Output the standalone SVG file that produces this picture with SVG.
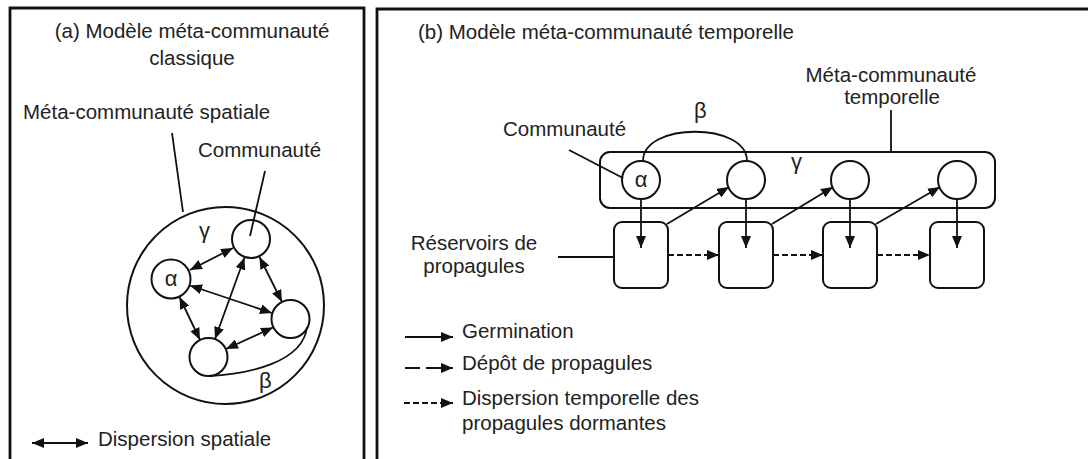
<svg xmlns="http://www.w3.org/2000/svg" width="1088" height="459" viewBox="0 0 1088 459">
<style>
text{font-family:"Liberation Sans",Arial,sans-serif;font-size:20.5px;fill:#222}
.c{text-anchor:middle}
.g{font-size:22px}
.s{fill:#fff;stroke:#111;stroke-width:2}
.l{fill:none;stroke:#111;stroke-width:1.8}
.p{fill:none;stroke:#111;stroke-width:2.8}
.d{stroke-dasharray:6,3}
.dl{stroke-dasharray:15,6}
</style>
<defs>
<marker id="ah" viewBox="0 0 12 10" refX="12" refY="5" markerWidth="12" markerHeight="10" markerUnits="userSpaceOnUse" orient="auto-start-reverse">
<path d="M0,0 L12,5 L0,10 z" fill="#111"/>
</marker>
</defs>
<g id="panels">
<path class="p" d="M10,459 V8 H364 V459"/>
<path class="p" d="M377,459 V9 H1088"/>
</g>
<g id="panel-a">
<text class="c" x="192" y="38">(a) Modèle méta-communauté</text>
<text class="c" x="192" y="65">classique</text>
<text x="23" y="119">Méta-communauté spatiale</text>
<text x="198" y="157">Communauté</text>
<g id="meta-spatiale"><circle class="s" cx="225.5" cy="305.5" r="98.5" fill="none"/></g>
<text class="g" x="199" y="238">γ</text>
<g id="comm-a"><circle class="s" cx="171" cy="279" r="19.5"/><text class="c g" x="171" y="286">α</text></g>
<g id="comm-t"><circle class="s" cx="251" cy="239" r="19"/></g>
<g id="comm-r"><circle class="s" cx="290.5" cy="319" r="19"/></g>
<g id="comm-b"><circle class="s" cx="208.5" cy="357" r="19"/></g>
<text class="g" x="259" y="388">β</text>
<g id="connectors-a">
<line class="l" x1="172" y1="133" x2="183" y2="212"/>
<line class="l" x1="265" y1="171" x2="250" y2="236"/>
<path class="l" d="M208.5,376 C250,374 303,362 307,327"/>
<line class="l" x1="190" y1="270" x2="233" y2="248" marker-start="url(#ah)" marker-end="url(#ah)"/>
<line class="l" x1="190" y1="285.5" x2="272" y2="313" marker-start="url(#ah)" marker-end="url(#ah)"/>
<line class="l" x1="179.5" y1="297" x2="200" y2="340" marker-start="url(#ah)" marker-end="url(#ah)"/>
<line class="l" x1="244.5" y1="257.5" x2="215" y2="339" marker-start="url(#ah)" marker-end="url(#ah)"/>
<line class="l" x1="259.5" y1="257" x2="282" y2="302" marker-start="url(#ah)" marker-end="url(#ah)"/>
<line class="l" x1="273" y1="327.5" x2="226" y2="349" marker-start="url(#ah)" marker-end="url(#ah)"/>
<line class="l" x1="32" y1="443" x2="88" y2="443" marker-start="url(#ah)" marker-end="url(#ah)"/>
</g>
<text x="98" y="446">Dispersion spatiale</text>
</g>
<g id="panel-b">
<text x="418" y="39">(b) Modèle méta-communauté temporelle</text>
<text x="503" y="136">Communauté</text>
<text class="g" x="694" y="118">β</text>
<text class="c" x="891" y="82">Méta-communauté</text>
<text class="c" x="892" y="104">temporelle</text>
<text class="c" x="474" y="250">Réservoirs de</text>
<text class="c" x="474" y="273">propagules</text>
<g id="meta-temporelle"><rect class="s" x="600" y="152" width="395" height="56" rx="10" fill="none"/></g>
<text class="g" x="791" y="169">γ</text>
<g id="comm1"><circle class="s" cx="641" cy="180" r="19"/><text class="c g" x="641" y="187">α</text></g>
<g id="comm2"><circle class="s" cx="746" cy="180" r="19"/></g>
<g id="comm3"><circle class="s" cx="850" cy="180" r="19"/></g>
<g id="comm4"><circle class="s" cx="957" cy="180" r="19"/></g>
<g id="res1"><rect class="s" x="614" y="222" width="54" height="66" rx="8"/></g>
<g id="res2"><rect class="s" x="719" y="222" width="54" height="66" rx="8"/></g>
<g id="res3"><rect class="s" x="823" y="222" width="54" height="66" rx="8"/></g>
<g id="res4"><rect class="s" x="930" y="222" width="54" height="66" rx="8"/></g>
<g id="connectors-b">
<path class="l" d="M643,161 C643,122 747,122 747,161"/>
<line class="l" x1="569" y1="150" x2="623" y2="178"/>
<line class="l" x1="891" y1="110" x2="891" y2="152"/>
<line class="l" x1="558" y1="257" x2="614" y2="257"/>
<line class="l" x1="641" y1="199" x2="641" y2="248" marker-end="url(#ah)"/>
<line class="l" x1="746" y1="199" x2="746" y2="248" marker-end="url(#ah)"/>
<line class="l" x1="850" y1="199" x2="850" y2="248" marker-end="url(#ah)"/>
<line class="l" x1="957" y1="199" x2="957" y2="248" marker-end="url(#ah)"/>
<line class="l" x1="667" y1="224" x2="729" y2="187" marker-end="url(#ah)"/>
<line class="l" x1="772" y1="224" x2="833" y2="187" marker-end="url(#ah)"/>
<line class="l" x1="876" y1="224" x2="940" y2="187" marker-end="url(#ah)"/>
<line class="l d" x1="668" y1="255" x2="719" y2="255" marker-end="url(#ah)"/>
<line class="l d" x1="773" y1="255" x2="823" y2="255" marker-end="url(#ah)"/>
<line class="l d" x1="877" y1="255" x2="930" y2="255" marker-end="url(#ah)"/>
<line class="l" x1="405" y1="337" x2="453" y2="337" marker-end="url(#ah)"/>
<line class="l dl" x1="405" y1="368" x2="453" y2="368" marker-end="url(#ah)"/>
<line class="l d" x1="404" y1="403" x2="453" y2="403" marker-end="url(#ah)"/>
</g>
<text x="462" y="338">Germination</text>
<text x="462" y="370">Dépôt de propagules</text>
<text x="462" y="405">Dispersion temporelle des</text>
<text x="462" y="430">propagules dormantes</text>
</g>
</svg>
